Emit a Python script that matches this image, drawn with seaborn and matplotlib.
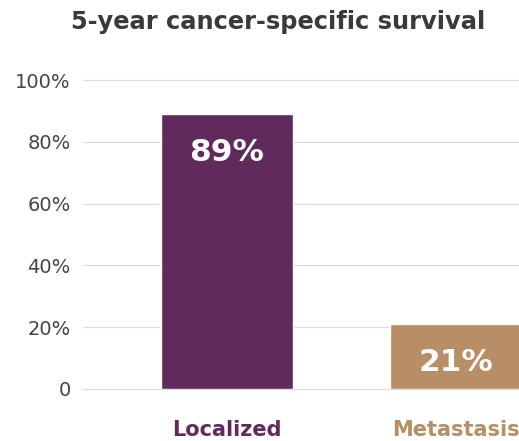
import matplotlib
matplotlib.use("Agg")
import matplotlib.pyplot as plt
import seaborn as sns
import pandas as pd

categories = ["Localized", "Metastasis"]
values = [89, 21]
colors = ["#612A5C", "#B78E65"]
yticks = [0, 20, 40, 60, 80, 100]
ytick_labels = ["0", "20%", "40%", "60%", "80%", "100%"]
title = "5-year cancer-specific survival"

sns.set_theme(style="white")
plt.rcParams["font.family"] = ["DejaVu Sans"]

df = pd.DataFrame({"cat": categories, "val": values})

fig = plt.figure(figsize=(5.19, 4.41), dpi=100)
ax = fig.add_axes([83/519, (441-389)/441, (519-83)/519, (389-80)/441])

sns.barplot(data=df, x="cat", y="val", hue="cat", palette=colors,
            width=0.576, legend=False, ax=ax, zorder=3, saturation=1)

ax.set_ylim(0, 100)
ax.set_xlim(-0.629, 1.275)
ax.set_yticks(yticks)
ax.set_yticklabels(ytick_labels, fontsize=14, color="#444444")
ax.yaxis.grid(True, color="#dcdcdc", linewidth=0.9, zorder=0)
ax.set_axisbelow(True)
for gl in ax.get_ygridlines():
    gl.set_clip_on(False)
for s in ax.spines.values():
    s.set_visible(False)
ax.tick_params(axis="y", length=0, pad=9)
ax.tick_params(axis="x", length=0, pad=22)
ax.set_xlabel("")
ax.set_ylabel("")
for lbl, c in zip(ax.get_xticklabels(), colors):
    lbl.set_color(c)
    lbl.set_fontweight("bold")
    lbl.set_fontsize(15)

for i, v in enumerate(values):
    ax.annotate(f"{v}%", xy=(i, v), xytext=(0, -28), textcoords="offset points",
                ha="center", va="center", color="white", fontsize=22.5, fontweight="bold")

fig.text(278/519, 1 - 22/441, title, ha="center", va="center",
         fontsize=17.4, fontweight="bold", color="#3a3a3a")

fig.savefig("out.png", dpi=100)
